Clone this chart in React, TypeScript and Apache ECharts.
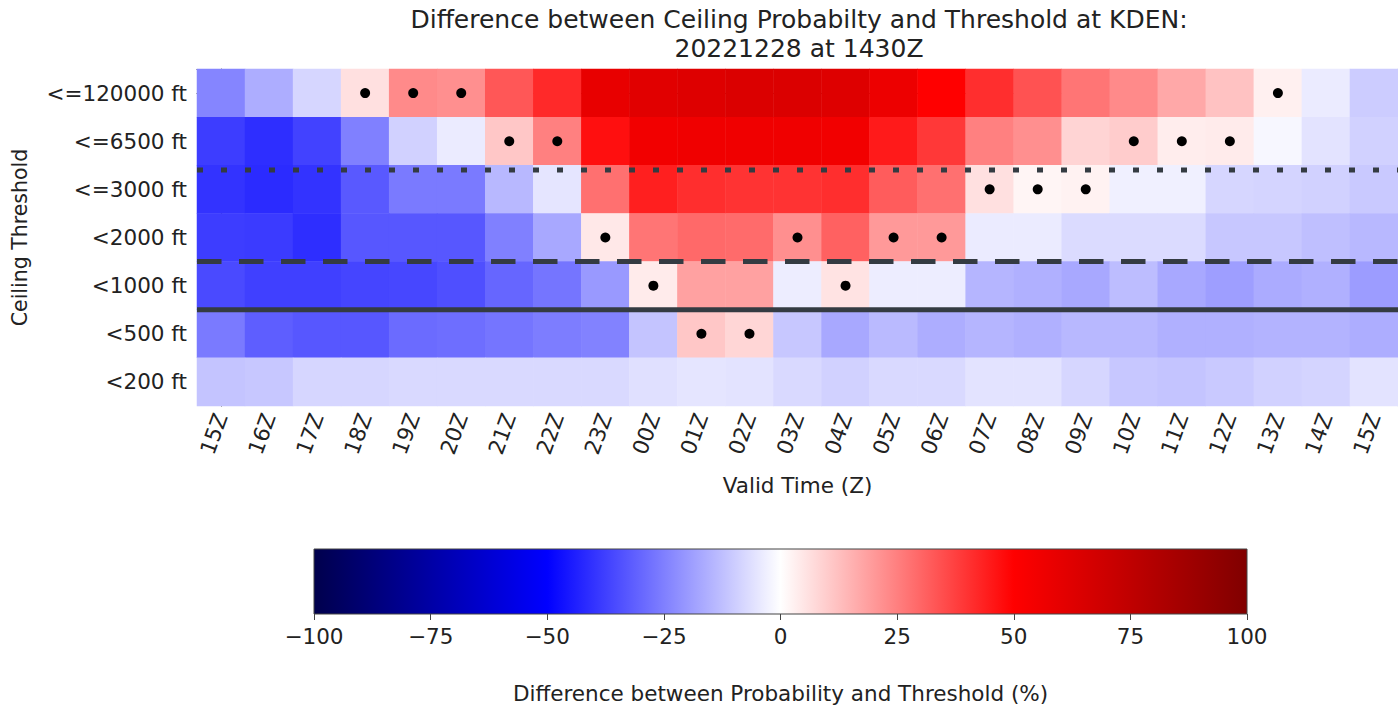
import React, { useEffect, useRef } from "react";
import * as echarts from "echarts";

const FONT = "DejaVu Sans";

const xLabels = ["15Z", "16Z", "17Z", "18Z", "19Z", "20Z", "21Z", "22Z", "23Z", "00Z", "01Z", "02Z", "03Z", "04Z", "05Z", "06Z", "07Z", "08Z", "09Z", "10Z", "11Z", "12Z", "13Z", "14Z", "15Z"];
const yLabels = ["<=120000 ft", "<=6500 ft", "<=3000 ft", "<2000 ft", "<1000 ft", "<500 ft", "<200 ft"];

const row120000 = [-24, -16, -8, 6, 23, 22, 33, 42, 59, 62, 63, 64, 64, 63, 57, 50, 41, 34, 27, 23, 17, 12, 3, -4, -10];
const row6500 = [-38, -41, -37, -25, -9, -4, 11, 25, 47, 55, 56, 56, 56, 55, 45, 39, 25, 22, 8.5, 10, 3.5, 4, -1.5, -5.5, -9];
const row3000 = [-40, -41.5, -40, -32.5, -26, -26, -14, -5, 28, 44, 41, 40, 40, 41, 32, 28, 6, 2, 2.5, -3, -3, -8, -8.5, -9, -10.5];
const row2000 = [-38, -38.5, -41, -33, -33, -33, -25, -17, 4.5, 27, 29.5, 29, 22, 31, 20, 20, -4, -4, -7, -7, -7, -11, -11, -12.5, -14];
const row1000 = [-35.5, -37.5, -37.5, -36.5, -36, -34.5, -30, -27, -20, 4, 18.5, 18.5, -3.5, 5.5, -3.5, -3.5, -14.5, -15.5, -17, -13, -17, -19, -16.5, -15.5, -19.5];
const row500 = [-26, -31.5, -33, -33, -29, -28.5, -27, -25.5, -24.5, -11.5, 11, 8, -11, -17, -13.5, -16, -14.5, -15.5, -14, -14, -15.5, -15.5, -15, -15, -16];
const row200 = [-11.5, -11, -8, -8, -7.5, -7.5, -7.5, -7.5, -7.5, -6, -5, -5.5, -7.5, -9, -7.5, -7.5, -5.5, -5.5, -8, -11, -11.5, -10.5, -9, -8.5, -5.5];
const rows = [row120000, row6500, row3000, row2000, row1000, row500, row200];

// cells marked with a dot: [column index, row index]
const dotCells = [
  [3, 0], [4, 0], [5, 0], [22, 0],
  [6, 1], [7, 1], [19, 1], [20, 1], [21, 1],
  [16, 2], [17, 2], [18, 2],
  [8, 3], [12, 3], [14, 3], [15, 3],
  [9, 4], [13, 4],
  [10, 5], [11, 5],
];

// separator lines between threshold groups (row-boundary positions)
const separators = [
  { y: 1.6, dash: [6, 18] },
  { y: 3.5, dash: [24.5, 17.5] },
  { y: 4.5, dash: "solid" },
];

const cbTicks = [-100, -75, -50, -25, 0, 25, 50, 75, 100];
const seismic = ["#00004c", "#0000ff", "#ffffff", "#ff0000", "#800000"];

const titleText = "Difference between Ceiling Probabilty and Threshold at KDEN:\n20221228 at 1430Z";

export default function App() {
  const ref = useRef<HTMLDivElement>(null);
  useEffect(() => {
    if (!ref.current) return;
    const chart = echarts.init(ref.current, undefined, { renderer: "svg" });
    const heatData: number[][] = [];
    rows.forEach((r, ri) => r.forEach((v, ci) => heatData.push([ci, ri, v])));
    const lineColor = "#343b42";
    const axisCol = "#444";
    const textCol = "#222";
    const fs = 21.5;
    const lastX = xLabels.length - 0.5;
    const stops = seismic.map((c, i) => ({ offset: i / (seismic.length - 1), color: c }));

    const lineSeries = separators.map((s) => ({
      type: "line",
      xAxisIndex: 1,
      yAxisIndex: 1,
      data: [[-0.5, s.y], [lastX, s.y]],
      symbol: "none",
      silent: true,
      z: 5,
      lineStyle: { color: lineColor, width: 5, type: s.dash, cap: "butt" },
    }));

    chart.setOption({
      animation: false,
      textStyle: { fontFamily: FONT },
      graphic: [
        {
          type: "text",
          x: 799,
          y: 5,
          style: {
            text: titleText,
            textAlign: "center",
            textVerticalAlign: "top",
            fontSize: 25,
            lineHeight: 29,
            fontFamily: FONT,
            fill: textCol,
          },
        },
      ],
      grid: [
        { left: 197, top: 69, width: 1205, height: 337 },
        { left: 314, top: 549, width: 933, height: 65 },
      ],
      visualMap: [
        {
          type: "continuous",
          show: false,
          min: -100,
          max: 100,
          seriesIndex: 0,
          dimension: 2,
          inRange: { color: seismic },
        },
      ],
      xAxis: [
        {
          type: "category",
          gridIndex: 0,
          data: xLabels,
          boundaryGap: true,
          axisLine: { show: true, lineStyle: { color: axisCol, width: 1.2 } },
          axisTick: { show: true, alignWithLabel: true, length: 5, lineStyle: { color: axisCol } },
          axisLabel: { rotate: 70, fontSize: fs, color: textCol, margin: 8, interval: 0, fontFamily: FONT },
          splitLine: { show: false },
          name: "Valid Time (Z)",
          nameLocation: "middle",
          nameGap: 68,
          nameTextStyle: { fontSize: fs, color: textCol, fontFamily: FONT },
        },
        {
          type: "value",
          gridIndex: 0,
          min: -0.5,
          max: lastX,
          position: "top",
          axisLine: { show: true, onZero: false, lineStyle: { color: axisCol, width: 1.2 } },
          axisTick: { show: false },
          axisLabel: { show: false },
          splitLine: { show: false },
        },
        {
          type: "value",
          gridIndex: 1,
          min: -100,
          max: 100,
          interval: 25,
          axisLine: { show: false },
          axisTick: { show: true, length: 6, lineStyle: { color: axisCol } },
          axisLabel: {
            fontSize: fs,
            color: textCol,
            margin: 11,
            fontFamily: FONT,
            formatter: (v: number) => (v < 0 ? "\u2212" + Math.abs(v) : String(v)),
          },
          splitLine: { show: false },
          name: "Difference between Probability and Threshold (%)",
          nameLocation: "middle",
          nameGap: 68,
          nameTextStyle: { fontSize: fs, color: textCol, fontFamily: FONT },
        },
      ],
      yAxis: [
        {
          type: "category",
          gridIndex: 0,
          inverse: true,
          data: yLabels,
          axisLine: { show: true, lineStyle: { color: axisCol, width: 1.2 } },
          axisTick: { show: true, alignWithLabel: true, length: 5, lineStyle: { color: axisCol } },
          axisLabel: { fontSize: fs, color: textCol, margin: 10, fontFamily: FONT },
          splitLine: { show: false },
          name: "Ceiling Threshold",
          nameLocation: "middle",
          nameGap: 167,
          nameRotate: 90,
          nameTextStyle: { fontSize: fs - 1, color: textCol, fontFamily: FONT },
        },
        {
          type: "value",
          gridIndex: 0,
          inverse: true,
          min: -0.5,
          max: yLabels.length - 0.5,
          position: "right",
          axisLine: { show: true, onZero: false, lineStyle: { color: axisCol, width: 1.2 } },
          axisTick: { show: false },
          axisLabel: { show: false },
          splitLine: { show: false },
        },
        {
          type: "value",
          gridIndex: 1,
          min: 0,
          max: 1,
          show: false,
        },
      ],
      series: [
        {
          type: "heatmap",
          xAxisIndex: 0,
          yAxisIndex: 0,
          data: heatData,
          itemStyle: { borderWidth: 0 },
          emphasis: { disabled: true },
          silent: true,
        },
        {
          type: "scatter",
          xAxisIndex: 0,
          yAxisIndex: 0,
          data: dotCells,
          symbol: "circle",
          symbolSize: 10,
          itemStyle: { color: "#000", opacity: 1 },
          z: 4,
          silent: true,
        },
        ...lineSeries,
        {
          type: "custom",
          xAxisIndex: 2,
          yAxisIndex: 2,
          data: [[cbTicks[0], 0, cbTicks[cbTicks.length - 1], 1]],
          encode: { x: [0, 2], y: [1, 3] },
          silent: true,
          renderItem: (params: any, api: any) => {
            const a = api.coord([api.value(0), api.value(3)]);
            const b = api.coord([api.value(2), api.value(1)]);
            return {
              type: "rect",
              shape: { x: a[0], y: a[1], width: b[0] - a[0], height: b[1] - a[1] },
              style: {
                fill: new echarts.graphic.LinearGradient(0, 0, 1, 0, stops),
                stroke: axisCol,
                lineWidth: 1,
              },
            };
          },
        },
      ],
    });
    return () => chart.dispose();
  }, []);
  return (
    <div
      ref={ref}
      style={{ position: "fixed", left: 0, top: 0, width: 1398, height: 708, background: "#fff" }}
    />
  );
}
